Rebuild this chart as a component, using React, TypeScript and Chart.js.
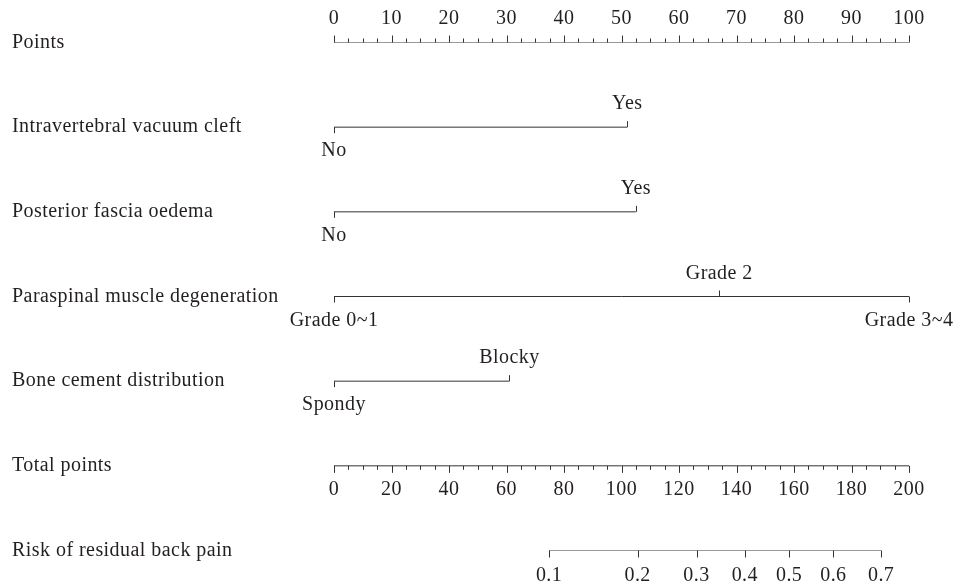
import { useEffect, useRef } from "react";
import { Chart, registerables } from "chart.js";

Chart.register(...registerables);

// ---- Data ----
const rowLabels = [
  "Points",
  "Intravertebral vacuum cleft",
  "Posterior fascia oedema",
  "Paraspinal muscle degeneration",
  "Bone cement distribution",
  "Total points",
  "Risk of residual back pain",
];

const pointsMajorTicks = [0, 10, 20, 30, 40, 50, 60, 70, 80, 90, 100];
const pointsMinorStep = 2.5;
const totalMajorTicks = [0, 20, 40, 60, 80, 100, 120, 140, 160, 180, 200];
const totalMinorStep = 5;

const vacuumLevels = ["No", "Yes"];
const vacuumPoints = [0, 51];
const fasciaLevels = ["No", "Yes"];
const fasciaPoints = [0, 52.5];
const paraspinalLevels = ["Grade 0~1", "Grade 2", "Grade 3~4"];
const paraspinalPoints = [0, 67, 100];
const cementLevels = ["Spondy", "Blocky"];
const cementPoints = [0, 30.5];

const riskLabels = ["0.1", "0.2", "0.3", "0.4", "0.5", "0.6", "0.7"];
const riskTotalPoints = [74.8, 105.6, 126.1, 142.9, 158.3, 173.7, 190.3];

// ---- Style ----
const FONT = "20px 'Liberation Serif', 'Times New Roman', serif";
const TEXT_COLOR = "#231f20";
const LINE_COLOR = "#333333";

const variableRows = [
  { row: 1, levels: vacuumLevels, pts: vacuumPoints },
  { row: 2, levels: fasciaLevels, pts: fasciaPoints },
  { row: 3, levels: paraspinalLevels, pts: paraspinalPoints },
  { row: 4, levels: cementLevels, pts: cementPoints },
];

const nomogramPlugin = {
  id: "nomogram",
  afterDatasetsDraw(chart: any) {
    const ctx = chart.ctx as CanvasRenderingContext2D;
    const x = chart.scales.x;
    const x2 = chart.scales.x2;
    const y = chart.scales.y;
    ctx.save();
    ctx.strokeStyle = LINE_COLOR;
    ctx.lineWidth = 1;
    ctx.fillStyle = TEXT_COLOR;
    ctx.font = FONT;
    (ctx as any).letterSpacing = "0.45px";
    ctx.textBaseline = "middle";

    const tick = (px: number, py: number, len: number) => {
      const xx = Math.round(px) + 0.5;
      ctx.beginPath();
      ctx.moveTo(xx, py);
      ctx.lineTo(xx, py + len);
      ctx.stroke();
    };

    // Row labels
    ctx.textAlign = "left";
    rowLabels.forEach((lab, i) => {
      ctx.fillText(lab, 12, y.getPixelForValue(i));
    });

    // Points axis (ticks up, labels above)
    const y0 = y.getPixelForValue(0);
    ctx.textAlign = "center";
    for (let v = 0; v <= 100 + 1e-9; v += pointsMinorStep) {
      const major = pointsMajorTicks.includes(v);
      tick(x.getPixelForValue(v), y0, major ? -7 : -4);
    }
    pointsMajorTicks.forEach((v) => {
      ctx.fillText(String(v), x.getPixelForValue(v), y0 - 24);
    });

    // Variable rows
    variableRows.forEach(({ row, levels, pts }) => {
      const py = y.getPixelForValue(row);
      levels.forEach((lab, i) => {
        const px = x.getPixelForValue(pts[i]);
        const down = i % 2 === 0;
        tick(px, py, down ? 6 : -6);
        ctx.fillText(lab, px, py + (down ? 24 : -23));
      });
    });

    // Total points axis (ticks down, labels below)
    const y5 = y.getPixelForValue(5);
    for (let v = 0; v <= 200 + 1e-9; v += totalMinorStep) {
      const major = totalMajorTicks.includes(v);
      tick(x2.getPixelForValue(v), y5, major ? 7 : 4);
    }
    totalMajorTicks.forEach((v) => {
      ctx.fillText(String(v), x2.getPixelForValue(v), y5 + 24);
    });

    // Risk axis
    const y6 = y.getPixelForValue(6);
    riskTotalPoints.forEach((v, i) => {
      const px = x2.getPixelForValue(v);
      tick(px, y6, 7);
      ctx.fillText(riskLabels[i], px, y6 + 25);
    });

    ctx.restore();
  },
};

function seg(x0: number, x1: number, row: number, axis: string) {
  return {
    data: [
      { x: x0, y: row },
      { x: x1, y: row },
    ],
    xAxisID: axis,
    yAxisID: "y",
    showLine: true,
    pointRadius: 0,
    borderColor: LINE_COLOR,
    borderWidth: 1,
    fill: false,
  };
}

export default function App() {
  const ref = useRef<HTMLCanvasElement | null>(null);
  useEffect(() => {
    if (!ref.current) return;
    const datasets = [
      seg(0, 100, 0, "x"),
      ...variableRows.map((r) => seg(Math.min(...r.pts), Math.max(...r.pts), r.row, "x")),
      seg(0, 200, 5, "x2"),
      seg(riskTotalPoints[0], riskTotalPoints[riskTotalPoints.length - 1], 6, "x2"),
    ];
    const chart = new Chart(ref.current, {
      type: "scatter",
      data: { datasets: datasets as any },
      options: {
        animation: false,
        responsive: true,
        maintainAspectRatio: false,
        layout: { padding: { left: 334, right: 48, top: 42.5, bottom: 37.5 } },
        plugins: { legend: { display: false }, tooltip: { enabled: false } },
        scales: {
          x: { type: "linear", min: 0, max: 100, display: false },
          x2: { type: "linear", min: 0, max: 200, display: false },
          y: { type: "linear", min: 0, max: 6, reverse: true, display: false },
        },
      },
      plugins: [nomogramPlugin],
    });
    return () => chart.destroy();
  }, []);
  return (
    <div style={{ position: "absolute", left: 0, top: 0, width: 957, height: 588, background: "#fff" }}>
      <canvas ref={ref} />
    </div>
  );
}
